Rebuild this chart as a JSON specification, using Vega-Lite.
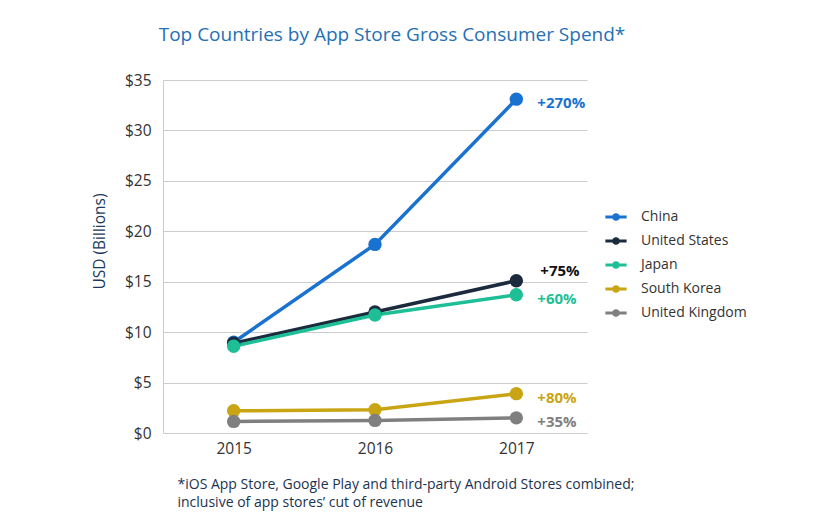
{
  "$schema": "https://vega.github.io/schema/vega-lite/v6.json",
  "autosize": "none",
  "width": 424,
  "height": 353,
  "padding": {"left": 163, "top": 80, "right": 253, "bottom": 92},
  "background": "white",
  "config": {
    "font": "Open Sans",
    "view": {"stroke": null}
  },
  "title": {
    "text": "Top Countries by App Store Gross Consumer Spend*",
    "fontSize": 19,
    "fontWeight": "normal",
    "color": "#2670b5",
    "anchor": "middle",
    "dx": 17,
    "offset": 28
  },
  "data": {
    "values": [
      {"country": "China", "year": "2015", "value": 9.0, "label": ""},
      {"country": "China", "year": "2016", "value": 18.7, "label": ""},
      {"country": "China", "year": "2017", "value": 33.1, "label": "+270%"},
      {"country": "United States", "year": "2015", "value": 8.9, "label": ""},
      {"country": "United States", "year": "2016", "value": 12.0, "label": ""},
      {"country": "United States", "year": "2017", "value": 15.1, "label": "+75%"},
      {"country": "Japan", "year": "2015", "value": 8.6, "label": ""},
      {"country": "Japan", "year": "2016", "value": 11.7, "label": ""},
      {"country": "Japan", "year": "2017", "value": 13.7, "label": "+60%"},
      {"country": "South Korea", "year": "2015", "value": 2.2, "label": ""},
      {"country": "South Korea", "year": "2016", "value": 2.3, "label": ""},
      {"country": "South Korea", "year": "2017", "value": 3.9, "label": "+80%"},
      {"country": "United Kingdom", "year": "2015", "value": 1.15, "label": ""},
      {"country": "United Kingdom", "year": "2016", "value": 1.25, "label": ""},
      {"country": "United Kingdom", "year": "2017", "value": 1.5, "label": "+35%"}
    ]
  },
  "encoding": {
    "x": {
      "field": "year",
      "type": "ordinal",
      "scale": {"type": "point", "padding": 0.5},
      "axis": {
        "labelAngle": 0,
        "labelFontSize": 15.5,
        "labelColor": "#333333",
        "labelPadding": 8,
        "ticks": false,
        "domain": true,
        "domainColor": "#cccccc",
        "grid": false,
        "title": ["*iOS App Store, Google Play and third-party Android Stores combined;", "inclusive of app stores’ cut of revenue"],
        "titleFontSize": 14,
        "titleFontWeight": "normal",
        "titleColor": "#1b3350",
        "titleAnchor": "start",
        "titleAlign": "left",
        "titleBaseline": "top",
        "titleX": 14,
        "titleY": 44,
        "titleLineHeight": 18
      }
    },
    "y": {
      "field": "value",
      "type": "quantitative",
      "scale": {"domain": [0, 35]},
      "axis": {
        "values": [0, 5, 10, 15, 20, 25, 30, 35],
        "format": "$d",
        "labelFontSize": 15.5,
        "labelColor": "#333333",
        "labelPadding": 12,
        "ticks": false,
        "domain": true,
        "domainColor": "#cccccc",
        "gridColor": "#cccccc",
        "title": "USD (Billions)",
        "titleFontSize": 15.5,
        "titleFontWeight": "normal",
        "titleColor": "#1b3a5c",
        "titlePadding": 17,
        "titleY": 161
      }
    },
    "color": {
      "field": "country",
      "type": "nominal",
      "scale": {
        "domain": ["China", "United States", "Japan", "South Korea", "United Kingdom"],
        "range": ["#1a72d0", "#1b2a3d", "#1ebf97", "#c9a514", "#7f7f7f"]
      },
      "legend": {
        "title": null,
        "orient": "none",
        "legendX": 442,
        "legendY": 126,
        "labelFontSize": 14,
        "labelColor": "#333333",
        "labelOffset": 14,
        "rowPadding": 6,
        "symbolType": "M-1,-0.13L1,-0.13L1,0.13L-1,0.13Z M-0.36,0 A0.36,0.36 0 1 1 0.36,0 A0.36,0.36 0 1 1 -0.36,0 Z",
        "symbolSize": 450,
        "symbolStrokeWidth": 0,
        "symbolOpacity": 1,
        "encode": {
          "symbols": {"update": {"fill": {"scale": "color", "field": "value"}, "strokeWidth": {"value": 0}}}
        }
      }
    }
  },
  "layer": [
    {"mark": {"type": "line", "strokeWidth": 3.5}},
    {"mark": {"type": "point", "filled": true, "size": 180, "opacity": 1}},
    {
      "transform": [{"filter": "datum.label != '' && datum.country != 'United States'"}],
      "mark": {"type": "text", "align": "left", "dx": 21, "dy": 4, "fontSize": 15, "fontWeight": "bold"},
      "encoding": {"text": {"field": "label"}}
    },
    {
      "transform": [{"filter": "datum.label != '' && datum.country == 'United States'"}],
      "mark": {"type": "text", "align": "left", "dx": 24, "dy": -10, "fontSize": 15, "fontWeight": "bold"},
      "encoding": {"text": {"field": "label"}, "color": {"value": "#111111"}}
    }
  ]
}
